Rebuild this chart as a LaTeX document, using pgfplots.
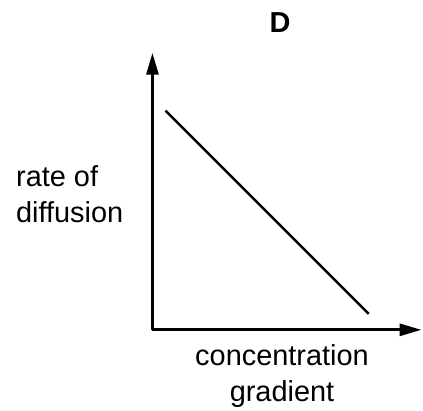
\documentclass[border=0pt]{standalone}
\usepackage{fontspec}
\setmainfont[Ligatures=NoCommon]{Liberation Sans}
\usepackage{pgfplots}
\pgfplotsset{compat=1.18}
\usetikzlibrary{arrows.meta}
\begin{document}
\begin{tikzpicture}
\begin{axis}[
  anchor=origin, at={(0,0)},
  scale only axis,
  width=270bp, height=278bp,
  xmin=0, xmax=270, ymin=0, ymax=278,
  enlargelimits=false,
  axis lines=left,
  axis line style={line width=3bp, -{Triangle[length=22bp,width=12bp]}},
  xtick=\empty, ytick=\empty,
  clip=false,
  font=\fontsize{29bp}{35bp}\selectfont,
]
\addplot[black, line width=2.5bp] coordinates {(13,220) (217,16)};
\node[anchor=base, font=\fontsize{29bp}{35bp}\selectfont\bfseries] at (axis cs:128,298) {D};
\node[anchor=base west, inner sep=0pt] at (axis cs:-137,144) {rate of};
\node[anchor=base west, inner sep=0pt] at (axis cs:-137,108) {diffusion};
\node[anchor=base] at (axis cs:130,-36) {concentration};
\node[anchor=base] at (axis cs:130,-72) {gradient};
\end{axis}
\path[use as bounding box] (-153bp,-81bp) rectangle (270bp,331bp);
\end{tikzpicture}
\end{document}
